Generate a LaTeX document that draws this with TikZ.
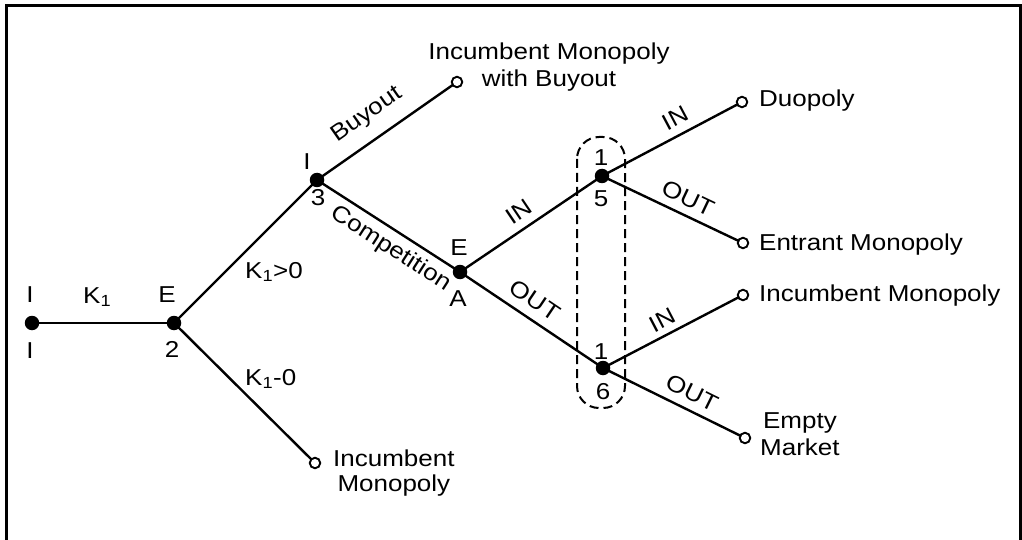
\documentclass[tikz,border=0pt]{standalone}
\usepackage{fontspec}
\setmainfont{Liberation Sans}[FakeStretch=1.13]
\usetikzlibrary{backgrounds}
\begin{document}
\begin{tikzpicture}[x=1pt,y=-1pt,
  edge/.style={line width=2.4pt, draw=black},
  dot/.style={circle, fill=black, inner sep=0pt, minimum size=14.5pt},
  term/.style={circle, draw=black, fill=white, line width=1.9pt, inner sep=0pt, minimum size=10.5pt},
  txt/.style={inner sep=0pt, font=\fontsize{23}{27}\selectfont, text=black},
  infoset/.style={draw=black, dash pattern=on 9pt off 5pt, line width=2pt, rounded corners=22pt},
  frame/.style={draw=black, line width=3pt}
]
\useasboundingbox (0,0) rectangle (1022,540);

% decision nodes
\node[dot] (n1) at (32,323) {};
\node[dot] (n2) at (174,323) {};
\node[dot] (n3) at (317,180) {};
\node[dot] (nA) at (460,272) {};
\node[dot] (n5) at (602,176) {};
\node[dot] (n6) at (603,368) {};
% terminal nodes
\node[term] (tbuy) at (457,82) {};
\node[term] (tinc) at (315,463) {};
\node[term] (tduo) at (742,102) {};
\node[term] (tent) at (743,243) {};
\node[term] (tinm) at (743,295) {};
\node[term] (temp) at (745,438) {};

\begin{scope}[on background layer]
  \draw[frame] (6,545) -- (6,5.5) -- (1020.5,5.5) -- (1020.5,545);
  \draw[edge] (n1.center) -- (n2.center);
  \draw[edge] (n2.center) -- (n3.center);
  \draw[edge] (n2.center) -- (tinc.center);
  \draw[edge] (n3.center) -- (tbuy.center);
  \draw[edge] (n3.center) -- (nA.center);
  \draw[edge] (nA.center) -- (n5.center);
  \draw[edge] (nA.center) -- (n6.center);
  \draw[edge] (n5.center) -- (tduo.center);
  \draw[edge] (n5.center) -- (tent.center);
  \draw[edge] (n6.center) -- (tinm.center);
  \draw[edge] (n6.center) -- (temp.center);
\end{scope}

% information set
\draw[infoset] (577,137) rectangle (625,408);

% node labels
\node[txt, anchor=base] (l1a) at (30,302) {I};
\node[txt, anchor=base] (l1b) at (30,358) {I};
\node[txt, anchor=base] (l2a) at (167,302) {E};
\node[txt, anchor=base] (l2b) at (172,357) {2};
\node[txt, anchor=base] (l3a) at (307,170) {I};
\node[txt, anchor=base] (l3b) at (318,206) {3};
\node[txt, anchor=base] (lAa) at (459,255) {E};
\node[txt, anchor=base] (lAb) at (458,306) {A};
\node[txt, anchor=base] (l5a) at (601,166) {1};
\node[txt, anchor=base] (l5b) at (601,207) {5};
\node[txt, anchor=base] (l6a) at (601,359) {1};
\node[txt, anchor=base] (l6b) at (603,399) {6};

% edge labels
\node[txt, anchor=base west] (lk1) at (83,303) {K\textsubscript{1}};
\node[txt, anchor=base west] (lkg) at (245,278) {K\textsubscript{1}>0};
\node[txt, anchor=base west] (lke) at (245,385) {K\textsubscript{1}-0};
\node[txt, rotate=35] (lbuy) at (367,115) {Buyout};
\node[txt, rotate=-32.75] (lcomp) at (391,249) {Competition};
\node[txt, rotate=34] (lin1) at (519,212) {IN};
\node[txt, rotate=-34] (lout1) at (535,300) {OUT};
\node[txt, rotate=28] (lin2) at (675,118) {IN};
\node[txt, rotate=-25.4] (lout2) at (688,198) {OUT};
\node[txt, rotate=27.5] (lin3) at (662,320) {IN};
\node[txt, rotate=-26.2] (lout3) at (692,393) {OUT};

% outcome labels (base anchor = baseline of the last line)
\node[txt, align=center, anchor=base] (obuy) at (549,87) {Incumbent Monopoly\\with Buyout};
\node[txt, align=center, anchor=base west, font=\fontsize{23}{25}\selectfont] (oinc) at (333,491) {Incumbent\\Monopoly};
\node[txt, anchor=base west] (oduo) at (759,107) {Duopoly};
\node[txt, anchor=base west] (oent) at (759,250) {Entrant Monopoly};
\node[txt, anchor=base west] (oinm) at (759,301) {Incumbent Monopoly};
\node[txt, align=center, anchor=base west] (oemp) at (760,455) {Empty\\Market};
\end{tikzpicture}
\end{document}
